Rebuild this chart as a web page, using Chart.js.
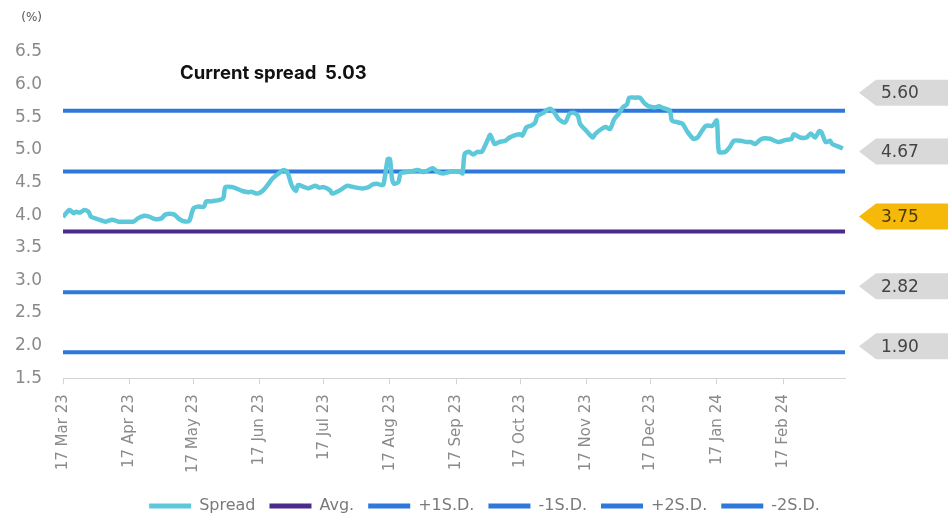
<!DOCTYPE html>
<html>
<head>
<meta charset="utf-8">
<script src="https://cdn.jsdelivr.net/npm/chart.js@4.4.1/dist/chart.umd.min.js"></script>
<style>
  html, body { margin: 0; padding: 0; background: #ffffff; }
  #wrap { width: 952px; height: 518px; }
</style>
</head>
<body>
<div id="wrap"><canvas id="c" width="952" height="518"></canvas></div>
<script>
// ---------- data ----------
// x: days since 17 Mar 2023
const days = [
  0,3,5,6,8,10,12,13,17,20,23,26,29,33,35,38,40,43,46,48,52,54,56,59,61,63,66,67,69,71,73,75,76,79,81,84,87,
  88,91,93,95,98,99,101,103,105,107,109,110,113,115,118,120,122,125,126,129,131,133,136,140,143,145,147,149,150,152,153,154,155,157,158,161,163,166,169,173,175,178,
  182,186,187,188,190,192,194,196,199,200,202,204,207,209,211,214,215,217,219,221,222,225,226,228,230,232,235,237,239,241,242,245,248,249,252,254,256,258,260,262,264,265,268,
  270,272,274,277,279,281,284,285,288,290,292,295,297,299,301,304,306,307,310,312,314,317,320,322,324,327,331,333,335,338,341,342,345,348,350,352,354,355,357,359,360,363,365
];
const spread = [
  3.97,4.08,4.03,4.05,4.04,4.08,4.05,3.98,3.93,3.90,3.93,3.90,3.90,3.90,3.95,3.99,3.98,3.94,3.95,4.01,4.01,3.95,3.91,3.91,4.10,4.13,4.13,4.21,4.21,4.22,4.23,4.26,4.43,4.43,4.41,4.37,4.35,
  4.36,4.33,4.36,4.43,4.56,4.59,4.64,4.69,4.66,4.46,4.37,4.46,4.43,4.41,4.45,4.42,4.43,4.38,4.33,4.37,4.41,4.45,4.43,4.41,4.43,4.47,4.48,4.46,4.47,4.86,4.86,4.56,4.48,4.51,4.64,4.66,4.67,4.69,4.66,4.72,4.67,4.64,
  4.67,4.66,4.64,4.94,4.97,4.93,4.97,4.97,5.17,5.23,5.09,5.12,5.14,5.19,5.22,5.24,5.22,5.35,5.37,5.42,5.52,5.57,5.60,5.63,5.57,5.47,5.42,5.55,5.57,5.52,5.40,5.29,5.19,5.24,5.32,5.35,5.32,5.47,5.55,5.65,5.70,5.80,5.80,
  5.80,5.72,5.67,5.65,5.67,5.64,5.60,5.45,5.42,5.40,5.29,5.17,5.19,5.29,5.37,5.37,5.45,4.97,4.97,5.04,5.14,5.14,5.12,5.12,5.09,5.17,5.17,5.14,5.12,5.15,5.17,5.24,5.19,5.19,5.25,5.19,5.29,5.27,5.12,5.14,5.09,5.05,5.02
];
const avgValue = 3.75;
const plus1SD = 4.67;
const minus1SD = 2.82;
const plus2SD = 5.60;
const minus2SD = 1.90;
const currentSpread = 5.03;
const seriesNames = ['Spread', 'Avg.', '+1S.D.', '-1S.D.', '+2S.D.', '-2S.D.'];
const tickLabels = ['17 Mar 23','17 Apr 23','17 May 23','17 Jun 23','17 Jul 23','17 Aug 23','17 Sep 23','17 Oct 23','17 Nov 23','17 Dec 23','17 Jan 24','17 Feb 24'];
const yTicks = [1.5,2.0,2.5,3.0,3.5,4.0,4.5,5.0,5.5,6.0,6.5];
const tagValues = [plus2SD, plus1SD, avgValue, minus1SD, minus2SD];

// ---------- derived ----------
const DAY = 86400000;
const t0 = Date.UTC(2023, 2, 17);
const tickPos = tickLabels.map((_, i) => Math.round((Date.UTC(2023, 2 + i, 17) - t0) / DAY));
const xMax = Math.round((Date.UTC(2024, 2, 17) - t0) / DAY);
const spreadPts = days.map((d, i) => ({ x: d, y: spread[i] }));
const flat = v => [{ x: 0, y: v }, { x: xMax, y: v }];

const CYAN = '#5cc8d9', PURPLE = '#4a2b8b', BLUE = '#2f78db';

const lineDs = (label, data, color, order) => ({
  label, data, borderColor: color, backgroundColor: color,
  borderWidth: 4, pointRadius: 0, pointHoverRadius: 0, tension: 0, order,
  borderCapStyle: 'butt'
});

const datasets = [
  Object.assign(lineDs(seriesNames[0], spreadPts, CYAN, 0), { tension: 0.25, borderWidth: 4.5, borderJoinStyle: 'round' }),
  lineDs(seriesNames[1], flat(avgValue), PURPLE, 1),
  lineDs(seriesNames[2], flat(plus1SD), BLUE, 1),
  lineDs(seriesNames[3], flat(minus1SD), BLUE, 1),
  lineDs(seriesNames[4], flat(plus2SD), BLUE, 1),
  lineDs(seriesNames[5], flat(minus2SD), BLUE, 1)
];

// ---------- annotations plugin ----------
const tagShift = [-18, -20, -15, -6, -6];
const annot = {
  id: 'annot',
  afterLayout(chart) {
    const lg = chart.legend;
    if (lg) { lg.left += 54; lg.right += 54; lg.top += 1; lg.bottom += 1; }
  },
  afterDraw(chart) {
    const { ctx, chartArea, scales } = chart;
    const y = scales.y;
    ctx.save();
    // unit
    ctx.fillStyle = '#555';
    ctx.font = '12px "DejaVu Sans"';
    ctx.textAlign = 'right';
    ctx.textBaseline = 'middle';
    ctx.fillText('(%)', chartArea.left - 21, 18);
    // current spread
    ctx.fillStyle = '#111';
    ctx.font = 'bold 18.5px Inter';
    ctx.textAlign = 'left';
    ctx.fillText('Current spread  ' + currentSpread.toFixed(2), 180, 73);
    // tags
    const tipX = chartArea.right + 14, shoulder = 17, right = chart.width - 4, h = 26;
    tagValues.forEach((v, i) => {
      const cy = y.getPixelForValue(v) + tagShift[i];
      const isAvg = v === avgValue;
      ctx.beginPath();
      ctx.moveTo(tipX, cy);
      ctx.lineTo(tipX + shoulder, cy - h / 2);
      ctx.lineTo(right, cy - h / 2);
      ctx.lineTo(right, cy + h / 2);
      ctx.lineTo(tipX + shoulder, cy + h / 2);
      ctx.closePath();
      ctx.fillStyle = isAvg ? '#f6b90a' : '#d9d9d9';
      ctx.fill();
      ctx.fillStyle = isAvg ? '#4a3a10' : '#444';
      ctx.font = '17px "DejaVu Sans"';
      ctx.textAlign = 'left';
      ctx.textBaseline = 'middle';
      ctx.fillText(v.toFixed(2), tipX + 22, cy + 1);
    });
    ctx.restore();
  }
};

new Chart(document.getElementById('c'), {
  type: 'line',
  data: { datasets },
  plugins: [annot],
  options: {
    responsive: false,
    animation: false,
    events: [],
    layout: { padding: { top: 52, left: 16, right: 107, bottom: -5 } },
    plugins: {
      tooltip: { enabled: false },
      legend: {
        position: 'bottom',
        labels: {
          boxWidth: 42,
          boxHeight: 5,
          padding: 14,
          color: '#7a7a7a',
          font: { family: 'DejaVu Sans', size: 16 },
          generateLabels(chart) {
            return chart.data.datasets.map((ds, i) => ({
              text: ds.label,
              fillStyle: ds.borderColor,
              strokeStyle: ds.borderColor,
              lineWidth: 0,
              hidden: false,
              datasetIndex: i,
              fontColor: '#7a7a7a'
            }));
          }
        }
      }
    },
    scales: {
      x: {
        type: 'linear',
        min: 0,
        max: xMax,
        afterBuildTicks(scale) {
          scale.ticks = tickPos.map(v => ({ value: v }));
        },
        ticks: {
          autoSkip: false,
          maxRotation: 90,
          minRotation: 90,
          padding: 10,
          color: '#8a8a8a',
          font: { family: 'DejaVu Sans', size: 15 },
          callback(value) {
            const i = tickPos.indexOf(value);
            return i >= 0 ? tickLabels[i] : '';
          }
        },
        grid: { drawOnChartArea: false, drawTicks: true, tickLength: 6, color: '#d4d4d4' },
        border: { display: true, color: '#d4d4d4', width: 1 }
      },
      y: {
        min: yTicks[0],
        max: yTicks[yTicks.length - 1],
        afterBuildTicks(scale) {
          scale.ticks = yTicks.map(v => ({ value: v }));
        },
        afterFit(scale) { scale.width = 47; },
        ticks: {
          padding: 21,
          color: '#8a8a8a',
          font: { family: 'DejaVu Sans', size: 17 },
          callback: v => Number(v).toFixed(1)
        },
        grid: { display: false, drawTicks: false },
        border: { display: false }
      }
    }
  }
});
</script>
</body>
</html>
